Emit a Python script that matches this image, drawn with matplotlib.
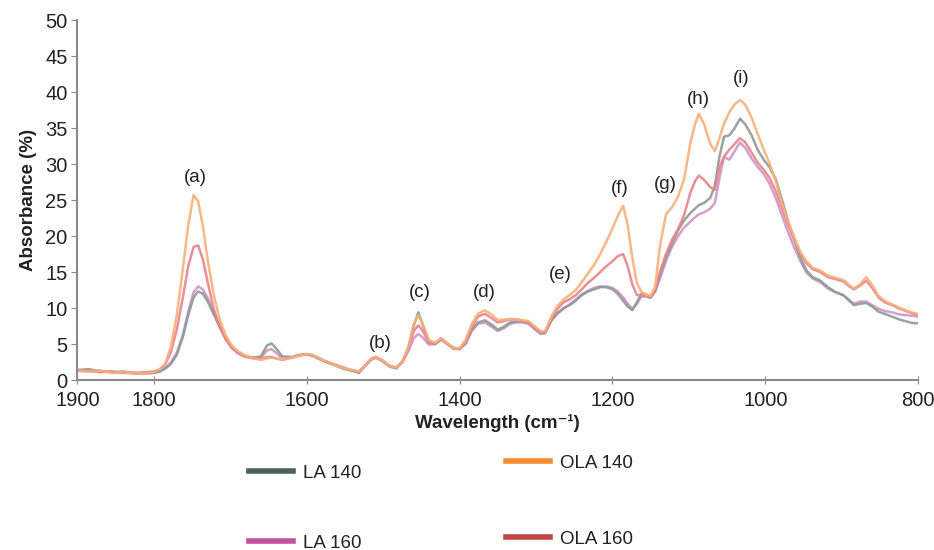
import matplotlib
matplotlib.use("Agg")
import matplotlib.pyplot as plt
from matplotlib.lines import Line2D

plt.rcParams['font.family'] = ['Liberation Sans', 'DejaVu Sans']

wavenumber = [1900, 1885, 1870, 1855, 1840, 1825, 1810, 1800, 1792, 1785, 1778, 1770, 1762, 1755,
              1748, 1742, 1736, 1730, 1722, 1714, 1706, 1698, 1690, 1680, 1670, 1660, 1652, 1646,
              1640, 1632, 1620, 1610, 1600, 1592, 1585, 1575, 1562, 1550, 1540, 1532, 1524, 1516,
              1510, 1502, 1492, 1483, 1475, 1467, 1460, 1454, 1448, 1440, 1432, 1424, 1416, 1408,
              1400, 1392, 1384, 1376, 1367, 1358, 1350, 1342, 1334, 1326, 1318, 1310, 1302, 1294,
              1288, 1280, 1272, 1264, 1256, 1248, 1240, 1232, 1224, 1216, 1208, 1200, 1193, 1186,
              1180, 1174, 1168, 1162, 1156, 1150, 1144, 1138, 1130, 1122, 1114, 1106, 1098, 1092,
              1087, 1080, 1072, 1066, 1060, 1054, 1047, 1040, 1033, 1026, 1018, 1010, 1002, 994,
              986, 978, 970, 962, 954, 946, 938, 928, 918, 908, 898, 890, 884, 876, 868, 860, 852,
              844, 834, 824, 814, 806, 800]

ola140 = [1.3, 1.2, 1.3, 1.0, 1.1, 0.9, 1.0, 1.1, 1.5, 2.3, 4.5, 9.0, 15.5, 21.5,
          25.7, 24.8, 21.5, 17.0, 12.0, 8.5, 6.2, 4.8, 4.0, 3.4, 3.0, 2.8, 3.0, 3.1,
          3.0, 2.9, 3.1, 3.4, 3.6, 3.5, 3.1, 2.6, 2.0, 1.6, 1.4, 1.2, 2.0, 2.9,
          3.2, 2.8, 2.0, 1.7, 2.6, 4.6, 7.8, 9.0, 7.8, 5.5, 5.2, 5.8, 5.1, 4.5,
          4.4, 5.6, 7.8, 9.2, 9.7, 9.1, 8.3, 8.4, 8.5, 8.4, 8.3, 8.2, 7.5, 6.8,
          6.8, 8.8, 10.3, 11.2, 11.8, 12.5, 13.6, 14.8, 16.0, 17.5, 19.2, 21.0, 22.8, 24.2,
          21.5, 17.0, 13.5, 12.2, 11.9, 11.7, 13.0, 18.5, 23.0, 24.0, 25.5, 28.0, 32.9, 35.5,
          37.0, 35.5, 32.8, 31.8, 33.6, 35.6, 37.2, 38.3, 38.9, 38.2, 36.5, 34.2, 32.0, 30.0,
          27.5, 24.5, 22.0, 19.8, 17.8, 16.5, 15.6, 15.2, 14.5, 14.2, 13.9, 13.2, 12.7, 13.3, 14.3, 13.2, 11.7,
          11.0, 10.5, 10.0, 9.6, 9.3, 9.2]

ola160 = [1.4, 1.3, 1.1, 1.2, 1.0, 1.0, 1.1, 1.2, 1.5, 2.2, 3.8, 7.0, 11.5, 15.8,
          18.5, 18.7, 16.8, 13.8, 10.0, 7.4, 5.6, 4.5, 3.8, 3.3, 3.1, 3.0, 3.2, 3.2,
          3.0, 2.8, 3.1, 3.4, 3.6, 3.4, 3.0, 2.6, 2.1, 1.7, 1.3, 1.1, 2.0, 2.9,
          3.2, 2.8, 2.0, 1.7, 2.5, 4.3, 6.8, 7.6, 6.8, 5.2, 5.1, 5.8, 5.1, 4.4,
          4.3, 5.4, 7.4, 8.8, 9.2, 8.6, 8.0, 8.2, 8.4, 8.4, 8.3, 8.0, 7.3, 6.6,
          6.7, 8.5, 9.9, 10.8, 11.2, 11.8, 12.6, 13.5, 14.2, 15.0, 15.8, 16.5, 17.2, 17.5,
          15.8, 13.3, 11.8, 11.8, 11.7, 11.5, 12.5, 15.0, 17.5, 19.5, 21.0, 23.0, 26.0, 27.6,
          28.4, 27.8, 26.8, 26.4, 29.5, 31.0, 32.0, 32.8, 33.6, 33.0, 31.6, 30.2, 29.2, 28.0,
          26.2, 23.8, 21.5, 19.5, 17.5, 16.2, 15.4, 15.0, 14.3, 14.0, 13.7, 13.0, 12.6, 13.1, 13.8, 12.8, 11.5,
          10.8, 10.4, 9.9, 9.5, 9.2, 9.1]

la140 = [1.4, 1.5, 1.2, 1.1, 1.2, 0.9, 1.0, 1.0, 1.2, 1.6, 2.2, 3.5, 6.0, 9.0,
         11.5, 12.3, 12.0, 11.0, 9.2, 7.4, 5.8, 4.5, 3.8, 3.3, 3.1, 3.3, 4.8, 5.1,
         4.4, 3.3, 3.2, 3.5, 3.6, 3.4, 3.0, 2.5, 2.0, 1.5, 1.3, 1.0, 1.9, 2.8,
         3.1, 2.7, 1.9, 1.6, 2.5, 4.5, 7.5, 9.4, 7.6, 5.3, 5.0, 5.7, 5.0, 4.4,
         4.3, 5.2, 7.0, 8.0, 8.3, 7.7, 7.0, 7.4, 8.0, 8.1, 8.2, 8.0, 7.2, 6.5,
         6.6, 8.3, 9.3, 10.0, 10.4, 11.0, 11.8, 12.3, 12.6, 12.9, 12.9, 12.6, 12.0, 11.0,
         10.2, 9.7, 10.8, 12.0, 11.9, 11.5, 12.4, 14.5, 17.0, 19.0, 20.8, 22.2, 23.2, 23.8,
         24.3, 24.6, 25.3, 27.0, 31.0, 33.8, 34.0, 35.0, 36.3, 35.5, 34.0, 32.0, 30.6, 29.5,
         27.8, 25.0, 22.0, 19.5, 17.0, 15.2, 14.3, 13.8, 12.9, 12.2, 11.8, 11.0, 10.4, 10.6, 10.7, 10.2, 9.5,
         9.2, 8.8, 8.4, 8.1, 7.9, 7.9]

la160 = [1.3, 1.2, 1.3, 1.1, 1.0, 1.0, 0.9, 1.0, 1.2, 1.7, 2.4, 3.8, 6.3, 9.5,
         12.2, 13.0, 12.6, 11.5, 9.5, 7.6, 5.9, 4.5, 3.7, 3.2, 3.0, 3.1, 4.1, 4.3,
         3.8, 3.0, 3.1, 3.4, 3.6, 3.4, 3.1, 2.6, 2.0, 1.6, 1.3, 1.1, 2.0, 2.9,
         3.2, 2.8, 2.0, 1.7, 2.5, 4.0, 5.8, 6.4, 5.9, 4.9, 5.0, 5.6, 5.0, 4.4,
         4.3, 5.0, 6.8, 7.8, 8.0, 7.4, 6.8, 7.2, 7.8, 8.0, 8.0, 7.8, 7.1, 6.4,
         6.5, 8.2, 9.2, 9.9, 10.5, 11.2, 11.9, 12.4, 12.8, 13.0, 13.0, 12.8, 12.3, 11.5,
         10.6, 9.9, 10.6, 11.6, 11.6, 11.4, 12.3, 14.0, 16.5, 18.5, 20.0, 21.2, 22.0, 22.6,
         23.0, 23.3, 23.8, 24.6, 28.0, 31.0, 30.6, 31.8, 33.0, 32.2, 30.8, 29.6, 28.6, 27.2,
         25.2, 22.8, 20.5, 18.4, 16.5, 14.9, 14.1, 13.6, 12.7, 12.2, 11.8, 11.1, 10.6, 10.9, 10.9, 10.4, 9.9,
         9.6, 9.4, 9.1, 9.0, 8.9, 8.8]

series_names = ['LA 140', 'OLA 140', 'LA 160', 'OLA 160']
series_values = [la140, ola140, la160, ola160]
legend_colors = ['#4f625a', '#f68b33', '#c2509e', '#c1463f']
line_colors = ['#8c9a96', '#f7b07a', '#cf94c9', '#e8838a']

peak_labels = ['(a)', '(b)', '(c)', '(d)', '(e)', '(f)', '(g)', '(h)', '(i)']
peak_x = [1746, 1504, 1452, 1368, 1268, 1190, 1131, 1088, 1032]
peak_y = [28.1, 5.1, 12.2, 12.1, 14.6, 26.6, 27.2, 38.9, 41.9]

fig = plt.figure(figsize=(9.34, 5.5), dpi=100)
ax = fig.add_axes([0.0829, 0.309, 0.9001, 0.6546])

draw_order = [2, 0, 3, 1]
for i in draw_order:
    ax.plot(wavenumber, series_values[i], color=line_colors[i], lw=1.8, alpha=0.9,
            solid_joinstyle='round')

for lab, xx, yy in zip(peak_labels, peak_x, peak_y):
    ax.text(xx, yy, lab, ha='center', va='center', fontsize=13.5, color='#222222')

ax.set_xlim(1900, 800)
ax.set_ylim(0, 50)
ax.set_xticks([1900, 1800, 1600, 1400, 1200, 1000, 800])
ax.set_yticks(range(0, 51, 5))
for s in ['top', 'right']:
    ax.spines[s].set_visible(False)
for s in ['left', 'bottom']:
    ax.spines[s].set_color('#8a8a8a')
    ax.spines[s].set_linewidth(1.5)
ax.tick_params(axis='x', direction='inout', length=6, color='#8a8a8a', labelsize=14.5,
               pad=5, labelcolor='#222222')
ax.tick_params(axis='y', direction='out', length=4, color='#8a8a8a', labelsize=14.5,
               pad=3, labelcolor='#222222')
ax.set_ylabel('Absorbance (%)', fontsize=13.5, fontweight='bold', labelpad=6, color='#222222')
ax.set_xlabel('Wavelength (cm\u207b\u00b9)', fontsize=13.5, fontweight='bold', labelpad=3,
              color='#222222')

# legend entries placed individually
leg_pos = [(249, 473), (506, 463), (249, 543), (506, 539)]
for i, (px, py) in enumerate(leg_pos):
    h = Line2D([0], [0], color=legend_colors[i], lw=4)
    lg = fig.legend([h], [series_names[i]], loc='center left',
                    bbox_to_anchor=(px / 934, 1 - py / 550), frameon=False,
                    fontsize=13.5, handlelength=2.35, handletextpad=0.55,
                    borderpad=0, borderaxespad=0)
    for t in lg.get_texts():
        t.set_color('#222222')

fig.savefig('out.png', dpi=100)
